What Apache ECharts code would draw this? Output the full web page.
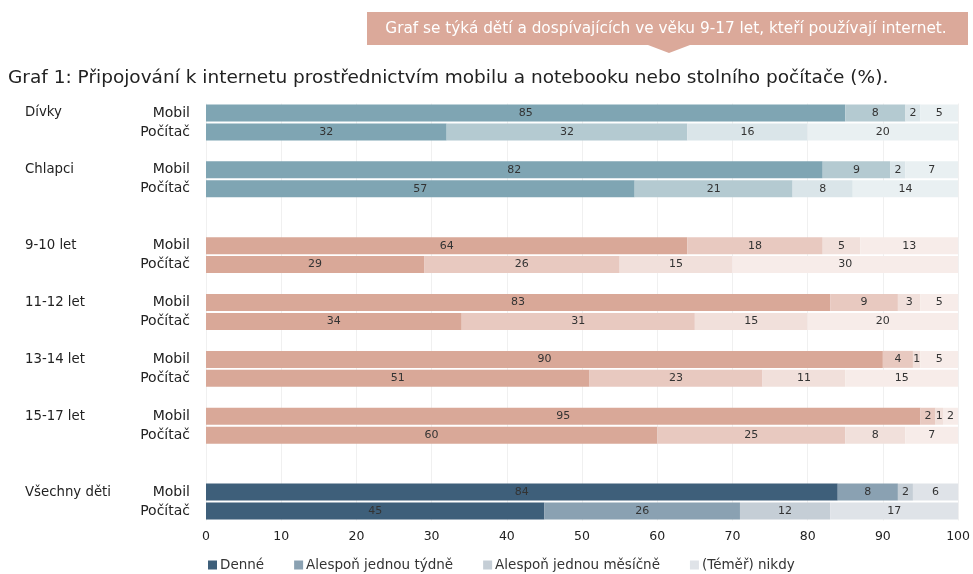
<!DOCTYPE html>
<html>
<head>
<meta charset="utf-8">
<script src="https://cdn.jsdelivr.net/npm/echarts@6/dist/echarts.min.js"></script>
<style>
  html, body { margin: 0; padding: 0; background: #fff; }
  #chart { width: 973px; height: 574px; }
</style>
</head>
<body>
<div id="chart"></div>
<script>
// skupiny a zařízení
const groups = ['Dívky', 'Chlapci', '9-10 let', '11-12 let', '13-14 let', '15-17 let', 'Všechny děti'];
const devices = ['Mobil', 'Počítač'];
// počet prázdných řádků za skupinou
const gapsAfter = [1, 2, 1, 1, 1, 2, 0];
// barevná sada pro skupinu: 0 = pohlaví, 1 = věk, 2 = všechny děti
const groupPalette = [0, 0, 1, 1, 1, 1, 2];

const seriesNames = ['Denné', 'Alespoň jednou týdně', 'Alespoň jednou měsíčně', '(Téměř) nikdy'];
// hodnoty po řádcích: skupina x (Mobil, Počítač)
const denne   = [85, 32, 82, 57, 64, 29, 83, 34, 90, 51, 95, 60, 84, 45];
const tydne   = [8, 32, 9, 21, 18, 26, 9, 31, 4, 23, 2, 25, 8, 26];
const mesicne = [2, 16, 2, 8, 5, 15, 3, 15, 1, 11, 1, 8, 2, 12];
const nikdy   = [5, 20, 7, 14, 13, 30, 5, 20, 5, 15, 2, 7, 6, 17];

const xTicks = [0, 10, 20, 30, 40, 50, 60, 70, 80, 90, 100];

const palettes = [
  ['#7fa5b3', '#b4cad1', '#dae5e9', '#e9f0f2'],
  ['#d9a898', '#e8c9c0', '#f1e0db', '#f7ece9'],
  ['#3e5f7a', '#8aa1b2', '#c5ced6', '#dfe3e8']
];

const FONT = '"DejaVu Sans"';

// sestavení kategorií včetně mezer
const categories = [];
const rowIndex = [];   // index do datových polí nebo -1 pro mezeru
const rowGroup = [];
groups.forEach((g, gi) => {
  devices.forEach((d, di) => {
    categories.push(g + '|' + d);
    rowIndex.push(gi * 2 + di);
    rowGroup.push(gi);
  });
  for (let k = 0; k < gapsAfter[gi]; k++) {
    categories.push('gap' + gi + '_' + k);
    rowIndex.push(-1);
    rowGroup.push(gi);
  }
});

const allValues = [denne, tydne, mesicne, nikdy];

const series = allValues.map((vals, si) => ({
  name: seriesNames[si],
  type: 'bar',
  stack: 'total',
  barWidth: 17,
  yAxisIndex: 0,
  itemStyle: { color: palettes[2][si] },
  label: {
    show: true,
    position: 'inside',
    fontSize: 11,
    color: '#333',
    fontFamily: FONT
  },
  data: categories.map((c, i) => {
    const idx = rowIndex[i];
    if (idx < 0) return null;
    return {
      value: vals[idx],
      itemStyle: { color: palettes[groupPalette[rowGroup[i]]][si] }
    };
  })
}));

const chart = echarts.init(document.getElementById('chart'));
chart.setOption({
  animation: false,
  textStyle: { fontFamily: FONT },
  graphic: [
    {
      type: 'polygon',
      shape: { points: [[367, 12], [968, 12], [968, 45], [690, 45], [669, 53], [648, 45], [367, 45]] },
      style: { fill: '#dba99a' }
    },
    {
      type: 'text',
      x: 666,
      y: 29,
      style: {
        text: 'Graf se týká dětí a dospívajících ve věku 9-17 let, kteří používají internet.',
        fill: '#fff',
        font: '15.3px ' + FONT,
        align: 'center',
        verticalAlign: 'middle'
      }
    },
    {
      type: 'text',
      x: 8,
      y: 78,
      style: {
        text: 'Graf 1: Připojování k internetu prostřednictvím mobilu a notebooku nebo stolního počítače (%).',
        fill: '#222',
        font: '18.5px ' + FONT,
        verticalAlign: 'middle'
      }
    }
  ],
  legend: {
    data: seriesNames,
    left: 203,
    top: 553,
    itemWidth: 9,
    itemHeight: 9,
    itemGap: 30,
    icon: 'rect',
    textStyle: { fontSize: 13.5, color: '#333', padding: [0, 0, 0, -2] }
  },
  grid: { left: 206, right: 13, top: 103.5, height: 417 },
  xAxis: {
    type: 'value',
    min: xTicks[0],
    max: xTicks[xTicks.length - 1],
    interval: 10,
    axisLine: { show: false },
    axisTick: { show: false },
    axisLabel: { fontSize: 12.5, color: '#222', margin: 10 },
    splitLine: { lineStyle: { color: '#f0f0f0' } }
  },
  yAxis: [
    {
      type: 'category',
      data: categories,
      inverse: true,
      axisLine: { show: false },
      axisTick: { show: false },
      axisLabel: {
        fontSize: 14,
        color: '#222',
        margin: 16,
        interval: 0,
        formatter: v => v.indexOf('|') >= 0 ? v.split('|')[1] : ''
      }
    },
    {
      type: 'category',
      data: categories,
      inverse: true,
      position: 'left',
      axisLine: { show: false },
      axisTick: { show: false },
      axisLabel: {
        fontSize: 13.3,
        color: '#222',
        margin: 181,
        align: 'left',
        interval: 0,
        formatter: v => {
          const parts = v.split('|');
          return parts[1] === devices[0] ? parts[0] : '';
        }
      }
    }
  ],
  series: series
});
</script>
</body>
</html>
